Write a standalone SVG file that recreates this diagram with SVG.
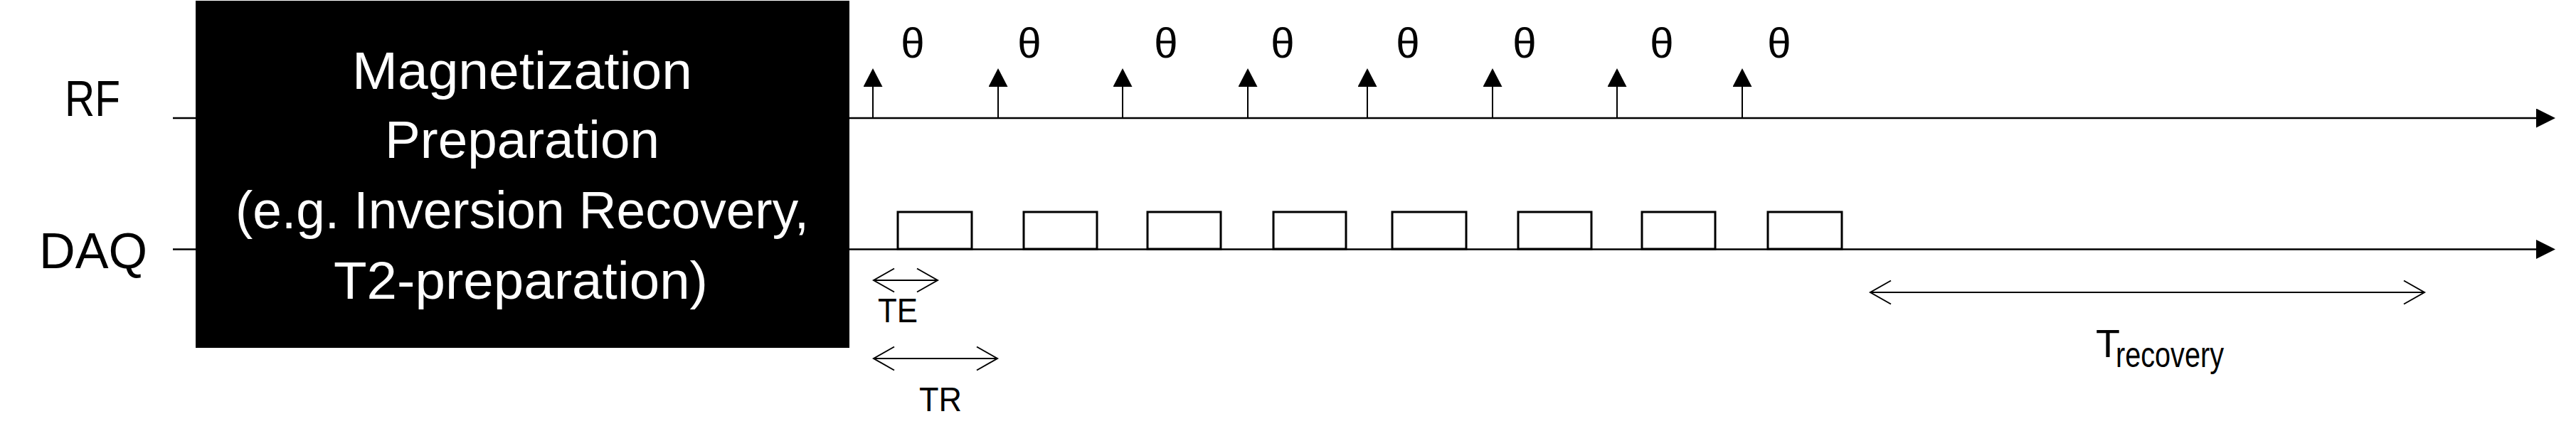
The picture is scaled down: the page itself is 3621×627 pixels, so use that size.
<svg xmlns="http://www.w3.org/2000/svg" width="3621" height="627" viewBox="0 0 3621 627">
<style>
text{font-family:"Liberation Sans",Arial,sans-serif;fill:#000}
.lbl{font-size:71px;text-anchor:middle}
.box{font-size:74px;text-anchor:middle;fill:#fff}
.th{font-size:60px;text-anchor:middle}
.dim{font-size:49px;text-anchor:middle}
.axis{stroke:#000;stroke-width:2.5;fill:none}
.stem{stroke:#000;stroke-width:2;fill:none}
.acq{stroke:#000;stroke-width:3;fill:#fff}
.dimline{stroke:#000;stroke-width:2;fill:none}
</style>
<defs>
<marker id="axhead" viewBox="0 0 27 27" refX="0" refY="13.5" markerWidth="27" markerHeight="27" markerUnits="userSpaceOnUse" orient="auto">
<path d="M0,0 L27,13.5 L0,27 Z" fill="#000"/>
</marker>
<marker id="pulse" viewBox="0 0 26 27" refX="0" refY="13.5" markerWidth="26" markerHeight="27" markerUnits="userSpaceOnUse" orient="auto">
<path d="M0,0 L26,13.5 L0,27 Z" fill="#000"/>
</marker>
<marker id="vee" viewBox="-1 -1 32 36" refX="29" refY="16.5" markerWidth="32" markerHeight="36" markerUnits="userSpaceOnUse" orient="auto-start-reverse" overflow="visible">
<path d="M0,0 L29,16.5 L0,33" fill="none" stroke="#000" stroke-width="2"/>
</marker>
</defs>

<g id="labels">
<text class="lbl" x="130" y="163" textLength="78" lengthAdjust="spacingAndGlyphs">RF</text>
<text class="lbl" x="131" y="377" textLength="152" lengthAdjust="spacingAndGlyphs">DAQ</text>
</g>

<g id="connectors">
<line class="axis" x1="243" y1="166" x2="3565" y2="166" marker-end="url(#axhead)"/>
<line class="axis" x1="243" y1="350.5" x2="3565" y2="350.5" marker-end="url(#axhead)"/>
<g id="rf-pulses">
<line class="stem" x1="1227" y1="166" x2="1227" y2="122" marker-end="url(#pulse)"/>
<line class="stem" x1="1403" y1="166" x2="1403" y2="122" marker-end="url(#pulse)"/>
<line class="stem" x1="1578" y1="166" x2="1578" y2="122" marker-end="url(#pulse)"/>
<line class="stem" x1="1754" y1="166" x2="1754" y2="122" marker-end="url(#pulse)"/>
<line class="stem" x1="1922" y1="166" x2="1922" y2="122" marker-end="url(#pulse)"/>
<line class="stem" x1="2098" y1="166" x2="2098" y2="122" marker-end="url(#pulse)"/>
<line class="stem" x1="2273" y1="166" x2="2273" y2="122" marker-end="url(#pulse)"/>
<line class="stem" x1="2449" y1="166" x2="2449" y2="122" marker-end="url(#pulse)"/>
</g>
<line class="dimline" x1="1228" y1="394" x2="1318" y2="394" marker-start="url(#vee)" marker-end="url(#vee)"/>
<line class="dimline" x1="1228" y1="504" x2="1402" y2="504" marker-start="url(#vee)" marker-end="url(#vee)"/>
<line class="dimline" x1="2629" y1="411" x2="3408" y2="411" marker-start="url(#vee)" marker-end="url(#vee)"/>
</g>

<g id="prep">
<rect x="275" y="1" width="919" height="488" fill="#000"/>
<text class="box" x="734" y="125" textLength="478" lengthAdjust="spacingAndGlyphs">Magnetization</text>
<text class="box" x="734" y="222" textLength="386" lengthAdjust="spacingAndGlyphs">Preparation</text>
<text class="box" x="734" y="321" textLength="806" lengthAdjust="spacingAndGlyphs">(e.g. Inversion Recovery,</text>
<text class="box" x="732" y="420" textLength="526" lengthAdjust="spacingAndGlyphs">T2-preparation)</text>
</g>

<g id="flip-angles">
<text class="th" x="1283" y="81">θ</text>
<text class="th" x="1447" y="81">θ</text>
<text class="th" x="1639" y="81">θ</text>
<text class="th" x="1803" y="81">θ</text>
<text class="th" x="1979" y="81">θ</text>
<text class="th" x="2143" y="81">θ</text>
<text class="th" x="2336" y="81">θ</text>
<text class="th" x="2501" y="81">θ</text>
</g>

<g id="acquisitions">
<rect class="acq" x="1262" y="298" width="104" height="52"/>
<rect class="acq" x="1439" y="298" width="103" height="52"/>
<rect class="acq" x="1613" y="298" width="103" height="52"/>
<rect class="acq" x="1790" y="298" width="102" height="52"/>
<rect class="acq" x="1957" y="298" width="104" height="52"/>
<rect class="acq" x="2134" y="298" width="103" height="52"/>
<rect class="acq" x="2308" y="298" width="103" height="52"/>
<rect class="acq" x="2485" y="298" width="104" height="52"/>
</g>

<g id="dim-labels">
<text class="dim" x="1262" y="453" textLength="56" lengthAdjust="spacingAndGlyphs">TE</text>
<text class="dim" x="1322" y="578" textLength="60" lengthAdjust="spacingAndGlyphs">TR</text>
<text x="2946" y="502" font-size="56" textLength="34" lengthAdjust="spacingAndGlyphs">T</text>
<text x="2974" y="516" font-size="50" textLength="152" lengthAdjust="spacingAndGlyphs">recovery</text>
</g>
</svg>
